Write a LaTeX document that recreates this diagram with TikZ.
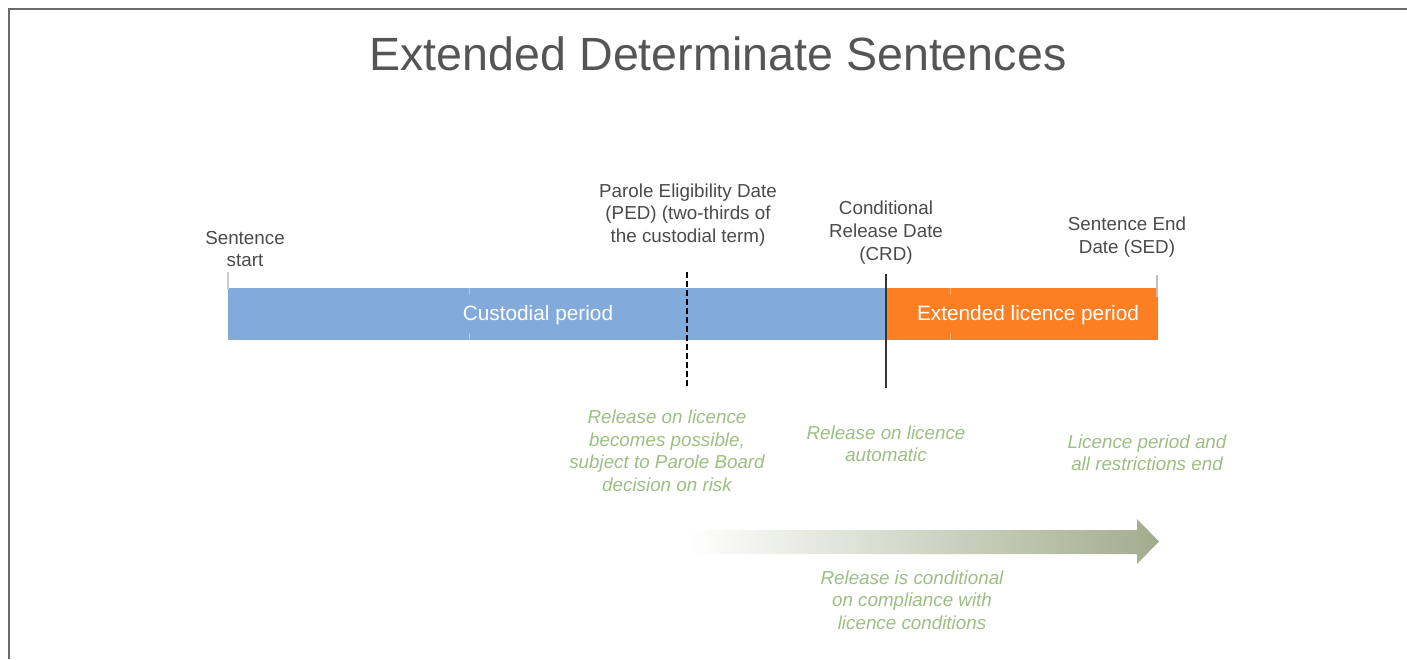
\documentclass[tikz,border=0pt]{standalone}
\usepackage{fontspec}
\setmainfont{Liberation Sans}
\definecolor{custblue}{HTML}{82ABDC}
\definecolor{liceorange}{HTML}{FD7F23}
\definecolor{notegreen}{HTML}{9DBE83}
\definecolor{labgray}{HTML}{4A4A4A}
\definecolor{titlegray}{HTML}{555555}
\definecolor{framegray}{HTML}{6A6A6A}
\definecolor{arrowgreen}{HTML}{A2AC8D}
\tikzset{
  datelab/.style={align=center,text=labgray,inner sep=0pt,
    font=\fontsize{18.8}{22.7}\selectfont},
  notelab/.style={align=center,text=notegreen,inner sep=0pt,
    font=\fontsize{18.8}{22.5}\selectfont\itshape},
  barlab/.style={text=white,inner sep=0pt,
    font=\fontsize{20.8}{24}\selectfont}
}
\begin{document}
\begin{tikzpicture}[x=1pt,y=-1pt]
\useasboundingbox (0,0) rectangle (1407,659);
% frame
\draw[framegray,line width=2pt] (9,659) -- (9,9) -- (1407,9);
\node[text=titlegray,font=\fontsize{46.6}{50}\selectfont] (title) at (718,54) {Extended Determinate Sentences};

% bars
\fill[custblue] (228,288) rectangle (886,340);
\fill[liceorange] (886,288) rectangle (1158,340);
\foreach \xx/\col in {469/custblue,950/liceorange} {
  \draw[white!35!\col,line width=1pt] (\xx,288) -- (\xx,295);
  \draw[white!35!\col,line width=1pt] (\xx,333) -- (\xx,340);
}
\draw[black!20,line width=1.2pt] (228,272) -- (228,289);
\draw[black!25,line width=1.2pt] (1157,275) -- (1157,297);
\node[barlab] (custody) at (538,315.5) {Custodial period};
\node[barlab] (extended) at (1028,315.5) {Extended licence period};

% date markers
\draw[black,line width=2pt,dash pattern=on 6pt off 3pt] (687,272) -- (687,388);
\draw[black!80,line width=1.5pt] (886,274) -- (886,388);

\node[datelab] (start) at (245,249) {Sentence\\start};
\node[datelab] (ped) at (688,215) {Parole Eligibility Date\\(PED) (two-thirds of\\the custodial term)};
\node[datelab] (crd) at (886,232.5) {Conditional\\Release Date\\(CRD)};
\node[datelab] (sed) at (1127,237) {Sentence End\\Date (SED)};

% notes
\node[notelab] (pednote) at (667,451) {Release on licence\\becomes possible,\\subject to Parole Board\\decision on risk};
\node[notelab] (crdnote) at (886,444) {Release on licence\\automatic};
\node[notelab] (sednote) at (1147,453) {Licence period and\\all restrictions end};

% licence arrow
\shade[left color=white,right color=arrowgreen]
  (688,530) -- (1137,530) -- (1137,519) -- (1159,541.5) -- (1137,564)
  -- (1137,554) -- (688,554) -- cycle;
\node[notelab] (condnote) at (912,600) {Release is conditional\\on compliance with\\licence conditions};
\end{tikzpicture}
\end{document}
